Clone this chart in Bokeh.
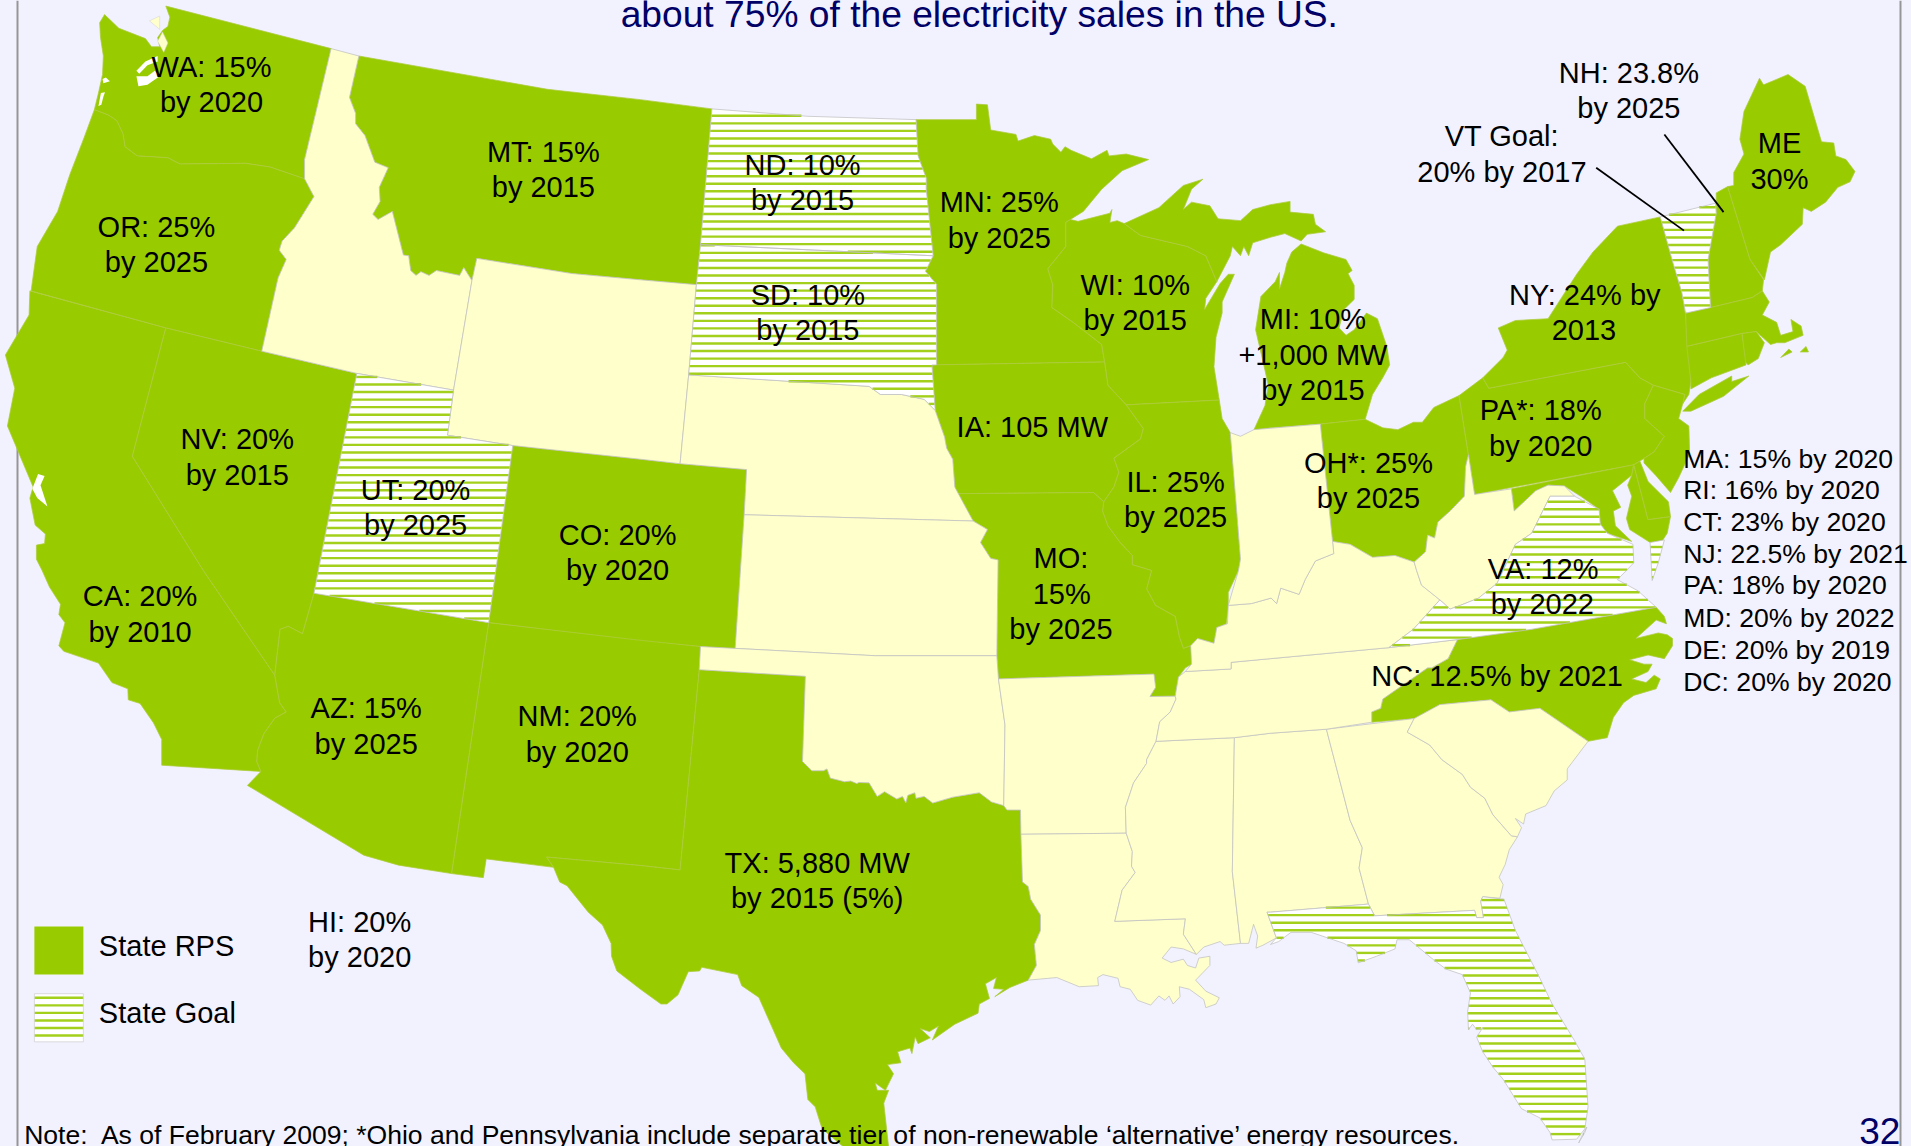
from bokeh.plotting import figure
from bokeh.embed import file_html
from bokeh.resources import INLINE
from bokeh.core.properties import value
from bokeh.models import Range1d

# Map outlines are kept in reference-crop units; the six helpers turn them into page units.
def A(*p): return [(x/2.45, y/2.703) for x, y in p]
def B(*p): return [(640+x/2.45, y/2.703) for x, y in p]
def C(*p): return [(1270+x/2.45, y/2.703) for x, y in p]
def D(*p): return [(x/2.45, 570+y/2.722) for x, y in p]
def E(*p): return [(640+x/2.45, 570+y/2.722) for x, y in p]
def F(*p): return [(1270+x/2.45, 570+y/2.722) for x, y in p]

BG = "#F2F2FF"; GREEN = "#99CC00"; CREAM = "#FFFFCC"; NAVY = "#000066"

WA = A((255,38),(290,75),(355,103),(370,125),(390,125),(385,100),(398,80),(410,70),(415,45),(405,15),(810,130),(745,430),(745,482),(660,450),(600,440),(440,442),(410,425),(335,420),(305,395),(300,360),(285,325),(265,310),(230,295),(240,250),(250,200),(252,150),(245,100),(243,60))
OR = A((230,295),(265,310),(285,325),(300,360),(305,395),(335,420),(410,425),(440,442),(600,440),(660,450),(745,482),(768,530),(720,615),(690,650),(683,675),(700,700),(680,750),(640,948),(405,885),(75,785),(90,665),(140,570),(170,470),(205,370))
CA = A((72,785),(405,885),(323,1232)) + D((497,0),(672,285),(684,360),(700,385),(672,402),(645,445),(630,490),(628,520),(638,547),(395,530),(395,460),(375,415),(342,362),(313,352),(312,322),(273,305),(240,252),(155,220),(143,205),(158,142),(143,120),(147,92),(120,45),(102,0)) + A((88,1510),(88,1472),(108,1468),(110,1442),(85,1418),(72,1345),(80,1315),(17,1150),(35,1048),(12,958),(70,850))
NV = A((405,885),(640,948),(873,1008)) + D((778,0),(768,62),(740,172),(705,152),(685,160),(672,285),(497,0)) + A((323,1232))
ID = A((810,130),(878,150),(855,262),(870,305),(870,333),(893,365),(917,437),(950,452),(928,505),(930,543),(912,578),(925,592),(960,570),(987,688),(1000,690),(1005,730),(1018,743),(1030,733),(1050,743),(1068,730),(1125,743),(1135,722),(1155,757),(1110,1053),(873,1008),(640,948),(680,750),(700,700),(683,675),(690,650),(720,615),(768,530),(745,482),(745,430))
MT = A((878,150),(1340,240),(1568,268)) + B((175,293),(147,660),(137,768),(0,755)) + A((1400,738),(1167,697),(1155,757),(1135,722),(1125,743),(1068,730),(1050,743),(1030,733),(1018,743),(1005,730),(1000,690),(987,688),(960,570),(925,592),(912,578),(930,543),(928,505),(950,452),(917,437),(893,365),(870,333),(870,305),(855,262))
WY = A((1167,697),(1400,738)) + B((0,755),(137,768),(118,1012),(97,1252),(0,1240)) + A((1255,1203),(1095,1175),(1110,1053),(1155,757))
UT = A((873,1008),(1110,1053),(1095,1175),(1255,1203)) + D((1196,142),(768,62))
CO = A((1255,1203),(1568,1240)) + B((97,1252),(260,1268),(254,1390)) + E((232,212),(147,207),(0,192)) + D((1196,142))
NM = D((1196,142),(1568,190)) + E((147,207),(144,270),(97,815),(0,803)) + D((1338,780),(1355,808),(1190,785),(1183,836),(1105,825))
AZ = D((768,62),(1196,142),(1105,825),(975,802),(890,775),(605,585),(638,547),(628,520),(630,490),(645,445),(672,402),(700,385),(684,360),(672,285),(685,160),(705,152),(740,172))
TX = D((1338,780)) + E((0,803),(97,815),(144,270),(404,288),(397,520),(420,545),(448,545),(457,540),(465,565),(500,575),(515,573),(530,580),(535,577),(560,578),(580,615),(598,602),(628,622),(642,615),(650,632),(655,612),(672,605),(675,620),(695,615),(716,633),(765,617),(830,605),(860,630),(890,640),(898,652),(931,652),(936,848),(950,860),(956,895),(980,938),(980,980),(965,1018),(970,1075),(950,1115),(905,1135),(868,1160),(890,1140),(865,1138),(872,1108),(845,1125),(855,1165),(830,1180),(827,1205),(770,1235),(715,1278),(730,1240),(708,1255),(685,1247),(710,1272),(680,1288),(673,1270),(665,1315),(660,1300),(630,1310),(638,1340),(605,1345),(620,1370),(600,1415),(575,1395),(580,1415),(608,1415),(596,1450),(610,1590),(520,1590),(445,1520),(428,1460),(410,1440),(403,1370),(375,1340),(345,1300),(290,1162),(248,1130),(238,1100),(150,1080),(145,1090),(117,1092),(92,1155),(65,1180),(50,1180),(0,1140)) + D((1510,1090),(1497,1050),(1496,1015),(1475,965),(1440,930),(1388,858),(1370,848),(1355,808))
ND = B((175,293),(410,313),(675,322),(680,420),(700,480),(700,510),(717,690),(147,660))
SD = B((147,660),(717,690),(698,732),(725,767),(725,985),(714,985),(722,1108),(695,1078),(640,1065),(588,1065),(560,1043),(118,1012),(137,768))
NE = B((118,1012),(560,1043),(588,1065),(640,1065),(695,1078),(722,1108),(745,1180),(750,1210),(765,1240),(770,1315),(815,1407),(254,1390),(260,1268),(97,1252))
KS = B((254,1390),(815,1407),(850,1430),(833,1465),(858,1508),(876,1512)) + E((873,232),(575,232),(232,212))
OK_ = E((147,207),(232,212),(575,232),(873,232),(877,295),(893,420),(890,640),(860,630),(830,605),(765,617),(716,633),(695,615),(675,620),(672,605),(655,612),(650,632),(642,615),(628,622),(598,602),(580,615),(560,578),(535,577),(530,580),(515,573),(500,575),(465,565),(457,540),(448,545),(420,545),(397,520),(404,288),(144,270))
MN = B((675,322),(823,322),(823,280),(850,282),(858,350),(920,362),(925,380),(965,365),(1005,375),(1010,388),(1030,410),(1040,395),(1055,405),(1105,428),(1143,405),(1148,420),(1190,415),(1245,430),(1180,460),(1130,510),(1085,570),(1053,592),(1042,600),(1042,665),(998,725),(1010,768),(1008,830),(1060,870),(1130,930),(1137,977),(725,985),(725,767),(698,732),(717,690),(700,510),(700,480),(680,420))
WI = B((1042,600),(1053,592),(1072,597),(1150,575),(1155,565),(1150,600),(1168,595),(1185,603),(1225,635),(1340,665),(1385,690),(1412,760),(1385,805),(1382,835),(1420,765),(1440,740),(1455,740),(1425,815),(1425,845),(1410,910),(1405,990),(1418,1080),(1190,1093),(1145,1040),(1137,977),(1130,930),(1060,870),(1008,830),(1010,768),(998,725),(1042,665))
MI_UP = B((1185,603),(1270,560),(1330,500),(1378,483),(1350,510),(1330,565),(1350,545),(1395,555),(1415,590),(1470,595),(1500,565),(1543,552)) + C((48,543),(48,572),(105,578),(110,605),(135,625),(90,632),(75,650),(35,630),(0,640)) + B((1500,655),(1490,690),(1478,665),(1470,690),(1450,665),(1445,690),(1412,760),(1385,690),(1340,665),(1225,635))
MI_LP = C((52,680),(75,658),(130,682),(185,700),(200,730),(190,738),(205,770),(205,808),(180,835),(168,885),(185,905),(205,890),(235,845),(262,860),(285,935),(292,985),(275,1020),(250,1065),(232,1132),(122,1145),(0,1155)) + B((1503,1160),(1530,1095),(1538,1040),(1528,990),(1507,890),(1520,800),(1555,760)) + C((22,735),(22,780),(35,735),(40,710))
IA = B((714,985),(1137,977),(1145,1040),(1190,1093),(1232,1157),(1225,1185),(1160,1237),(1172,1275),(1160,1315),(1135,1355),(1110,1330),(775,1333),(770,1315),(765,1240),(750,1210),(745,1180),(722,1108))
IL = B((1190,1093),(1418,1080),(1425,1130),(1445,1168),(1460,1370),(1470,1510)) + E((1465,0),(1440,60),(1440,100),(1435,145),(1412,155),(1405,198),(1365,185),(1348,205),(1330,212),(1320,180),(1310,125),(1262,95),(1240,50),(1252,0)) + B((1205,1525),(1205,1500),(1175,1465),(1145,1420),(1132,1380),(1135,1355),(1160,1315),(1172,1275),(1160,1237),(1225,1185),(1232,1157))
MO = B((775,1333),(1110,1330),(1135,1355),(1132,1380),(1145,1420),(1175,1465),(1205,1500),(1205,1525)) + E((1252,0),(1240,50),(1262,95),(1310,125),(1320,180),(1330,212),(1348,205),(1355,212),(1350,255),(1335,265),(1318,290),(1310,342),(1248,343),(1262,318),(1258,282),(877,295),(873,232)) + B((876,1512),(858,1508),(833,1465),(850,1430),(815,1407))
AR = E((877,295),(1258,282),(1262,318),(1248,343),(1310,342),(1312,350),(1298,385),(1272,412),(1263,465),(1240,515),(1240,525),(1208,578),(1188,645),(1190,715),(932,718),(931,652),(898,652),(890,640),(893,420))
LA = E((932,718),(1190,715),(1205,765),(1203,805),(1212,822),(1180,870),(1162,955),(1335,948),(1330,990),(1362,1045),(1330,1030),(1300,1025),(1278,1055),(1300,1067),(1330,1058),(1340,1075),(1360,1082),(1368,1055),(1395,1050),(1395,1075),(1360,1115),(1385,1145),(1418,1163),(1410,1180),(1385,1190),(1380,1168),(1345,1140),(1320,1133),(1322,1160),(1305,1180),(1295,1158),(1285,1170),(1270,1158),(1250,1183),(1218,1170),(1200,1140),(1175,1133),(1170,1110),(1133,1100),(1120,1108),(1122,1130),(1075,1133),(1020,1108),(950,1115),(970,1075),(965,1018),(980,980),(980,938),(956,895),(950,860),(936,848))
MS = E((1263,465),(1455,455),(1450,820),(1470,1015),(1430,1020),(1420,1010),(1380,1025),(1362,1045),(1330,990),(1335,948),(1162,955),(1180,870),(1212,822),(1203,805),(1205,765),(1190,715),(1188,645),(1208,578),(1240,525),(1240,515))
AL = E((1455,455),(1543,443)) + F((137,432),(195,680),(225,755),(217,810),(240,908),(0,930)) + E((1535,930),(1558,1000),(1525,1020),(1508,1028),(1512,995),(1502,963),(1490,1015),(1470,1015),(1450,820))
GA = F((137,432),(352,403),(335,440),(390,475),(420,515),(470,555),(490,590),(525,620),(545,665),(590,722),(605,725),(585,760),(575,800),(560,835),(570,855),(562,892),(520,888),(515,900),(522,945),(505,945),(500,925),(255,940),(240,908),(217,810),(225,755),(195,680))
SC = F((352,403),(415,365),(540,352),(585,385),(660,375),(778,465),(727,540),(727,570),(695,600),(675,640),(625,663),(620,690),(600,675),(615,700),(605,725),(590,722),(545,665),(525,620),(490,590),(470,555),(420,515),(390,475),(335,440))
FL = F((0,930),(240,908),(255,940),(500,925),(505,945),(522,945),(515,900),(520,888),(572,895),(600,980),(660,1110),(690,1180),(745,1280),(770,1330),(778,1460),(770,1520),(750,1548),(690,1550),(685,1530),(660,1490),(615,1465),(570,1385),(545,1352),(520,1310),(505,1270),(520,1245),(505,1250),(495,1235),(485,1250),(483,1200),(490,1150),(470,1100),(430,1085),(400,1060),(340,1005),(310,1005),(305,1030),(260,1050),(215,1068),(210,1035),(180,1015),(100,985),(50,985),(20,1010),(0,1018)) + E((1558,1000),(1535,930))
FL_KEY = F((775,1515),(770,1530),(755,1558),(765,1535))
TN = E((1335,275),(1447,268),(1447,250),(1543,240)) + F((290,210),(458,188),(435,240),(395,265),(385,265),(275,350),(270,375),(248,385),(248,413),(137,432),(0,443)) + E((1455,455),(1263,465),(1272,412),(1298,385),(1312,350),(1310,342),(1318,290))
NC = F((458,188),(640,160),(945,100),(965,125),(970,145),(945,135),(920,160),(895,185),(950,170),(972,175),(985,185),(985,205),(965,240),(925,230),(880,243),(915,255),(935,255),(925,275),(885,295),(920,305),(940,285),(955,295),(945,322),(890,340),(865,360),(840,400),(825,455),(778,465),(660,375),(585,385),(540,352),(415,365),(352,403),(248,413),(248,385),(270,375),(275,350),(385,265),(395,265),(435,240))
KY = E((1335,275),(1447,268),(1447,250),(1543,240)) + F((290,210),(350,160),(415,80),(370,40),(358,0)) + C((352,1518),(305,1500),(250,1505),(195,1470),(152,1462),(155,1495),(110,1515),(85,1565)) + F((70,65),(25,48),(15,90)) + E((1545,75),(1497,90),(1440,95),(1438,145),(1412,155),(1405,198),(1365,185),(1348,205),(1350,255))
IN = B((1445,1168),(1470,1178),(1503,1160)) + C((122,1145),(152,1462),(155,1495),(110,1515),(85,1565)) + F((70,65),(25,48),(15,90)) + E((1545,75),(1497,90),(1440,95),(1465,0)) + B((1470,1510),(1460,1370))
OH = C((122,1145),(232,1132),(275,1155),(312,1160),(350,1140),(372,1140),(400,1100),(462,1068),(485,1228),(478,1260),(475,1340),(440,1380),(410,1410),(402,1453),(385,1445),(380,1490),(352,1518),(305,1500),(250,1505),(195,1470),(152,1462))
PA = C((462,1068),(520,1020),(535,1048),(870,978),(905,1020),(938,1040),(917,1090),(917,1130),(965,1178),(940,1220),(915,1238),(890,1255),(500,1335),(485,1228))
NY = C((520,1020),(570,965),(580,945),(558,885),(600,865),(680,860),(750,740),(790,680),(850,610),(955,585),(985,705),(1008,790),(1017,850),(1030,1030),(1025,1065),(1010,1090),(1015,1065),(938,1040),(905,1020),(870,978),(535,1048))
LONG_ISLAND = C((1010,1110),(1050,1065),(1130,1015),(1130,1030),(1172,1015),(1110,1070),(1030,1110))
NJ = C((938,1040),(1015,1065),(1010,1090),(1000,1130),(1025,1150),(1027,1225),(1000,1290),(980,1330),(945,1285),(915,1250),(915,1238),(940,1220),(965,1178),(917,1130),(917,1090))
MD_W = C((590,1320),(890,1255),(885,1283),(838,1325),(858,1370),(840,1380),(845,1420),(885,1462),(825,1440),(808,1415),(805,1375),(760,1340),(720,1312),(680,1310),(650,1325),(597,1380))
MD_E = C((890,1255),(925,1403),(980,1395),(972,1440),(960,1460),(930,1465),(880,1430),(872,1400),(885,1340),(875,1310),(885,1283))
DE = C((890,1255),(905,1245),(925,1300),(975,1355),(980,1395),(925,1403))
WV = C((485,1228),(500,1335),(590,1320),(597,1380),(650,1325),(680,1310),(720,1312),(745,1340),(685,1340),(640,1440),(600,1470),(570,1541)) + F((555,35),(510,75),(465,95),(440,105),(415,80),(370,40),(358,0)) + C((352,1518),(380,1490),(385,1445),(402,1453),(410,1410),(440,1380),(475,1340),(478,1260))
VA = C((685,1340),(745,1340),(805,1375),(808,1415),(825,1440),(888,1470),(890,1520)) + F((850,25),(900,55),(945,100),(640,160),(458,188),(290,210),(350,160),(415,80),(440,105),(465,95),(510,75),(555,35)) + C((570,1541),(600,1470),(640,1440))
VA_SHORE = C((930,1465),(965,1458),(950,1520),(935,1568))
VT = C((955,585),(1090,548),(1092,575),(1072,700),(1078,830),(1017,845),(1008,790),(985,705))
NH = C((1092,520),(1120,503),(1175,700),(1208,755),(1205,785),(1180,803),(1078,830),(1072,700),(1092,575))
ME = C((1120,503),(1135,500),(1135,465),(1160,415),(1150,375),(1160,300),(1198,210),(1208,228),(1268,200),(1310,232),(1350,382),(1380,385),(1385,420),(1410,430),(1432,462),(1420,490),(1390,505),(1360,545),(1325,570),(1305,560),(1303,605),(1250,660),(1225,680),(1210,755),(1175,700))
MA = C((1017,845),(1078,830),(1180,803),(1205,785),(1222,815),(1205,850),(1240,870),(1250,905),(1280,895),(1275,862),(1300,880),(1305,905),(1260,925),(1240,925),(1225,930),(1190,895),(1155,900),(1020,935))
RI = C((1155,900),(1190,895),(1210,925),(1195,968),(1170,985),(1162,975))
CT = C((1020,935),(1155,900),(1165,985),(1080,1020),(1030,1050),(1030,1030))
MA_ISLE_1 = C((1250,965),(1270,942),(1278,950))
MA_ISLE_2 = C((1298,950),(1312,935),(1318,950))

GREEN_STATES = [WA, OR, CA, NV, MT, CO, NM, AZ, TX, MN, WI, MI_UP, MI_LP, IA, IL, MO, OH, PA, NY, LONG_ISLAND, NJ, MD_W, MD_E, DE, NC, NH, ME, MA, RI, CT, MA_ISLE_1, MA_ISLE_2]
CREAM_STATES = [ID, WY, NE, KS, OK_, AR, LA, MS, AL, GA, SC, TN, KY, IN, WV]
GOAL_STATES = [ND, SD, UT, VA, VA_SHORE, VT, FL, FL_KEY]
GOAL_PHASES = [115.3, 116.5, 384.0, 622.0, 622.0, 214.3, 937.3, 937.3]
STRIPE_GAP = 7.55

SAN_JUAN = [A((365,55),(390,42),(390,78)), A((397,85),(410,115),(400,140),(385,110))]
WATER = [
    A((385,150),(355,165),(333,190),(340,198),(360,175),(385,165)),
    A((333,205),(360,205),(378,190),(390,205),(360,228),(338,232)),
    A((250,212),(258,208),(268,218),(252,224)),
    A((246,250),(256,248),(252,260),(247,282),(240,285)),
    A((92,1280),(108,1285),(98,1310),(115,1368),(90,1345),(78,1320)),
]

LEGEND_RPS = D((83,969),(203,1100))
LEGEND_GOAL = D((83,1152),(203,1283))
GOAL_LEGEND_PHASE = 997.3

LEADERS = [C((965,362),(1110,572)), C((798,452),(1013,622))]
FRAME = [[(17,0),(17,1146)], [(1900,0),(1900,1146)]]

TEXT_RISE = 9.8

LABELS = [
    (A((517,205)), "WA: 15%"), (A((517,300)), "by 2020"),
    (A((1330,435)), "MT: 15%"), (A((1330,530)), "by 2015"),
    (A((382,638)), "OR: 25%"), (A((382,733)), "by 2025"),
    (A((580,1213)), "NV: 20%"), (A((580,1308)), "by 2015"),
    (A((1017,1350)), "UT: 20%"), (A((1017,1445)), "by 2025"),
    (A((1512,1470)), "CO: 20%"), (A((1512,1565)), "by 2020"),
    (D((342,97)), "CA: 20%"), (D((342,195)), "by 2010"),
    (D((896,402)), "AZ: 15%"), (D((896,500)), "by 2025"),
    (D((1413,423)), "NM: 20%"), (D((1413,521)), "by 2020"),
    (D((880,983)), "HI: 20%"), (D((880,1078)), "by 2020"),
    (B((397,470)), "ND: 10%"), (B((397,567)), "by 2015"),
    (B((410,823)), "SD: 10%"), (B((410,918)), "by 2015"),
    (B((879,572)), "MN: 25%"), (B((879,668)), "by 2025"),
    (B((1212,795)), "WI: 10%"), (B((1212,890)), "by 2015"),
    (B((960,1178)), "IA: 105 MW"),
    (B((1311,1328)), "IL: 25%"), (B((1311,1423)), "by 2025"),
    (B((1030,1533)), "MO:"), (E((1032,90)), "15%"), (E((1030,185)), "by 2025"),
    (E((433,823)), "TX: 5,880 MW"), (E((433,918)), "by 2015 (5%)"),
    (C((104,888)), "MI: 10%"), (C((104,985)), "+1,000 MW"), (C((104,1080)), "by 2015"),
    (C((240,1276)), "OH*: 25%"), (C((240,1372)), "by 2025"),
    (C((662,1133)), "PA*: 18%"), (C((662,1232)), "by 2020"),
    (C((770,823)), "NY: 24% by"), (C((768,917)), "2013"),
    (C((878,223)), "NH: 23.8%"), (C((878,317)), "by 2025"),
    (C((567,393)), "VT Goal:"), (C((567,490)), "20% by 2017"),
    (C((1247,412)), "ME"), (C((1247,508)), "30%"),
    (F((668,22)), "VA: 12%"), (F((666,118)), "by 2022"),
    (F((555,315)), "NC: 12.5% by 2021"),
]
LEGEND_LABELS = [(D((241,1048)), "State RPS"), (D((241,1232)), "State Goal")]
SIDE_LIST = [
    (C((1011,1265)), "MA: 15% by 2020"), (C((1011,1350)), "RI: 16% by 2020"),
    (C((1011,1435)), "CT: 23% by 2020"), (C((1011,1522)), "NJ: 22.5% by 2021"),
    (F((1011,67)), "PA: 18% by 2020"), (F((1011,155)), "MD: 20% by 2022"),
    (F((1011,243)), "DE: 20% by 2019"), (F((1011,330)), "DC: 20% by 2020"),
]
TITLE = (B((830,64)), "about 75% of the electricity sales in the US.")
NOTE = (D((58,1563)), "Note:\u00a0 As of February 2009; *Ohio and Pennsylvania include separate tier of non-renewable \u2018alternative\u2019 energy resources.")
PAGE_NO = (F((1543,1552)), "32")

W, H = 1911, 1146
p = figure(width=W, height=H, x_range=Range1d(0, W), y_range=Range1d(H, 0),
           output_backend="svg", toolbar_location=None, min_border=0,
           background_fill_color=BG, border_fill_color=BG, outline_line_color=None)
p.axis.visible = False
p.grid.visible = False

def xs(polys): return [[q[0] for q in r] for r in polys]
def ys(polys): return [[q[1] for q in r] for r in polys]

def stripes(poly, phase, gap):
    """Horizontal lines clipped to a polygon by an even-odd scan."""
    sx, sy = [], []
    lo, hi = min(q[1] for q in poly), max(q[1] for q in poly)
    k = int((lo - phase) // gap)
    y = phase + k * gap
    while y <= hi:
        cuts = []
        for (x0, y0), (x1, y1) in zip(poly, poly[1:] + poly[:1]):
            if (y0 <= y < y1) or (y1 <= y < y0):
                cuts.append(x0 + (y - y0) * (x1 - x0) / (y1 - y0))
        cuts.sort()
        for a, b in zip(cuts[::2], cuts[1::2]):
            sx.append([a, b]); sy.append([y, y])
        y += gap
    return sx, sy

p.multi_line(xs(FRAME), ys(FRAME), line_color="#969696", line_width=2)

p.patches(xs(GREEN_STATES), ys(GREEN_STATES), fill_color=GREEN, line_color="#AECB3F", line_width=0.75)
p.patches(xs(CREAM_STATES), ys(CREAM_STATES), fill_color=CREAM, line_color="#C0C0C0", line_width=0.75)
p.patches(xs(SAN_JUAN), ys(SAN_JUAN), fill_color=CREAM, line_color="#D0D0D0", line_width=0.5)
p.patches(xs(WATER), ys(WATER), fill_color="#FFFFFF", line_color=None)
p.patches(xs(GOAL_STATES), ys(GOAL_STATES), fill_color="#FFFFFF", line_color=None)

sx, sy = [], []
for poly, ph in zip(GOAL_STATES, GOAL_PHASES):
    a, b = stripes(poly, ph, STRIPE_GAP)
    sx += a; sy += b
p.multi_line(sx, sy, line_color="#A3D01A", line_width=2.4)
p.patches(xs(GOAL_STATES), ys(GOAL_STATES), fill_color=None, line_color="#C0C0C0", line_width=0.75)

(lx0, ly0), (lx1, ly1) = LEGEND_RPS
p.quad(left=[lx0], right=[lx1], top=[ly0], bottom=[ly1], fill_color=GREEN, line_color=None)
(gx0, gy0), (gx1, gy1) = LEGEND_GOAL
box = [(gx0, gy0), (gx1, gy0), (gx1, gy1), (gx0, gy1)]
p.patches([[q[0] for q in box]], [[q[1] for q in box]], fill_color="#FFFFFF", line_color=None)
a, b = stripes(box, GOAL_LEGEND_PHASE, STRIPE_GAP)
p.multi_line(a, b, line_color="#A3D01A", line_width=2.4)
p.patches([[q[0] for q in box]], [[q[1] for q in box]], fill_color=None, line_color="#D0D0D0", line_width=0.75)

p.multi_line(xs(LEADERS), ys(LEADERS), line_color="#000000", line_width=1.8)

FONT = value("Liberation Sans")
def put(items, size, color, align):
    p.text(x=[i[0][0][0] for i in items], y=[i[0][0][1] - TEXT_RISE for i in items], text=[i[1] for i in items],
           text_font=FONT, text_font_size=value(size), text_color=color,
           text_align=align, text_baseline="alphabetic")

put(LABELS, "29px", "#000000", "center")
put(LEGEND_LABELS, "29px", "#000000", "left")
put(SIDE_LIST, "26.6px", "#000000", "left")
put([TITLE], "37.2px", NAVY, "center")
put([NOTE], "26.55px", "#000000", "left")
put([PAGE_NO], "37px", NAVY, "right")

html = file_html(p, INLINE)
html = html.replace("</head>", "<style>html,body{margin:0!important;padding:0;overflow:hidden;background:#F2F2FF}</style></head>", 1)
open("out.html", "w").write(html)
